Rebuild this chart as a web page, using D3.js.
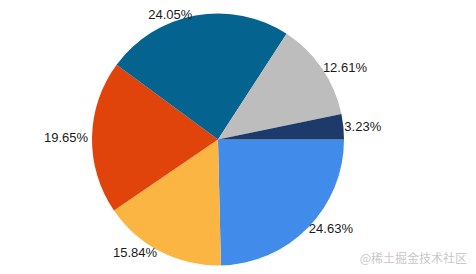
<!DOCTYPE html>
<html>
<head>
<meta charset="utf-8">
<script src="https://cdn.jsdelivr.net/npm/d3@7"></script>
<style>
  html, body { margin: 0; padding: 0; background: #fff; }
  svg { display: block; }
  .label { font-family: "Liberation Sans", Arial, sans-serif; font-size: 13px; fill: #1a1a1a; }
  .mark { font-family: "Noto Sans CJK SC", sans-serif; font-size: 12px; fill: #c8c8c8; }
</style>
</head>
<body>
<div id="chart"></div>
<script>
// slices, clockwise from 3 o'clock
var categories = ["A", "B", "C", "D", "E", "F"];
var values = [24.63, 15.84, 19.65, 24.05, 12.61, 3.23];
var colors = ["#418beb", "#fbb542", "#e0440b", "#05638f", "#bdbdbd", "#1c3b6a"];

var width = 476,
    height = 274,
    cx = 218,
    cy = 139.5,
    radius = 126;

var svg = d3.select('#chart')
    .append('svg')
    .attr('width', width)
    .attr('height', height);

var table = categories.map(function (c, i) { return {name: c, value: values[i]}; });

var pie = d3.pie()
    .sort(null)
    .value(function (d) { return d.value; })
    .startAngle(Math.PI / 2)
    .endAngle(Math.PI / 2 + 2 * Math.PI);

var arc = d3.arc().innerRadius(0).outerRadius(radius);

var color = d3.scaleOrdinal().domain(categories).range(colors);

var g = svg.append('g')
    .attr('transform', 'translate(' + cx + ',' + cy + ')');

var arcs = pie(table);

g.selectAll('path')
    .data(arcs)
    .enter()
    .append('path')
    .attr('d', arc)
    .attr('fill', function (d) { return color(d.data.name); });

// labels sit just outside the arc midpoint
g.selectAll('text')
    .data(arcs)
    .enter()
    .append('text')
    .attr('class', 'label')
    .attr('dy', '0.35em')
    .attr('text-anchor', function (d) {
        var a = (d.startAngle + d.endAngle) / 2;
        return Math.sin(a) >= 0 ? 'start' : 'end';
    })
    .attr('x', function (d) {
        var a = (d.startAngle + d.endAngle) / 2;
        return Math.sin(a) * (radius + 1) + (Math.sin(a) >= 0 ? 0 : -3);
    })
    .attr('y', function (d) {
        var a = (d.startAngle + d.endAngle) / 2;
        return -Math.cos(a) * (radius + 1);
    })
    .text(function (d) { return d.data.value.toFixed(2) + '%'; });

svg.append('text')
    .attr('class', 'mark')
    .attr('x', 467)
    .attr('y', 263)
    .attr('text-anchor', 'end')
    .text('@稀土掘金技术社区');
</script>
</body>
</html>
